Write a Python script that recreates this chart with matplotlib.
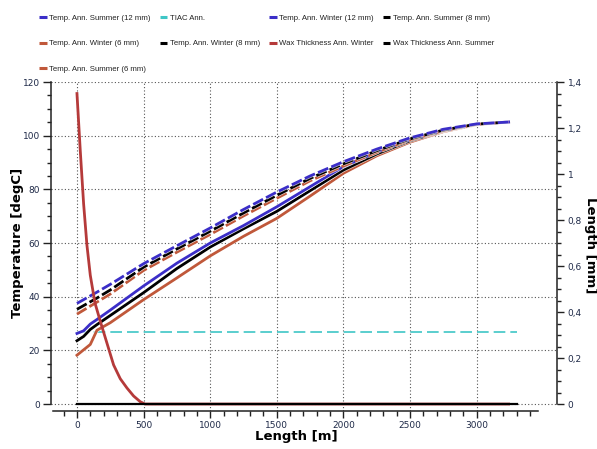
import matplotlib
matplotlib.use('Agg')
import matplotlib.pyplot as plt
import matplotlib.patheffects as pe
from matplotlib.lines import Line2D
from matplotlib.ticker import FixedLocator, FuncFormatter

# Pipeline temperature / wax thickness profiles along the line
length_m = [0, 50, 100, 150, 250, 500, 750, 1000, 1250, 1500, 1750,
            2000, 2250, 2500, 2750, 3000, 3240]

temp_summer_12 = [37.5, 38.9, 40.3, 41.7, 44.6, 52.3, 59.0, 65.6, 72.5, 79.0, 85.0,
                  90.3, 95.0, 99.2, 102.4, 104.4, 105.1]
temp_summer_8 = [35.3, 36.7, 38.1, 39.5, 42.5, 51.0, 57.8, 64.4, 71.2, 77.8, 84.1,
                 89.5, 94.4, 98.8, 102.1, 104.3, 105.1]
temp_summer_6 = [33.5, 35.0, 36.5, 38.0, 41.0, 49.8, 56.6, 63.2, 70.1, 76.7, 83.2,
                 88.7, 93.8, 98.4, 101.9, 104.2, 105.1]
temp_winter_12 = [26.3, 27.3, 29.8, 31.5, 35.0, 44.0, 52.5, 60.0, 66.5, 73.5, 81.0,
                  88.5, 94.0, 98.6, 102.0, 104.3, 105.1]
temp_winter_8 = [23.6, 25.2, 27.8, 29.6, 33.0, 41.5, 50.5, 58.5, 65.3, 71.8, 79.5,
                 87.2, 93.2, 98.1, 101.8, 104.2, 105.1]
temp_winter_6 = [18.2, 20.2, 22.2, 27.5, 30.3, 38.9, 47.0, 55.2, 62.5, 69.2, 77.5,
                 86.0, 92.5, 97.6, 101.5, 104.1, 105.1]

tiac_length = [0, 3300]
tiac_temp = [27.0, 27.0]

wax_winter_length = [0, 25, 50, 75, 100, 135, 175, 225, 275, 325, 375, 425, 475, 510, 3240]
wax_winter_mm = [1.35, 1.10, 0.87, 0.69, 0.56, 0.44, 0.36, 0.265, 0.17, 0.11, 0.07,
                 0.035, 0.01, 0.0, 0.0]
wax_summer_length = [0, 3300]
wax_summer_mm = [0.0, 0.0]

BLUE = '#3b2ec8'
BLACK = '#000000'
BROWN = '#c0583a'
RED = '#b53a3a'
TEAL = '#3ec6c6'
TICK_COLOR = '#1f2a48'

fig = plt.figure(figsize=(5.97, 4.49), dpi=100)
ax = fig.add_axes([0.0854, 0.0846, 0.8471, 0.7327])
ax2 = ax.twinx()

halo = [pe.Stroke(linewidth=3.0, foreground='white', alpha=0.7), pe.Normal()]
dash = (0, (4, 1.2))

ax.plot(tiac_length, tiac_temp, color=TEAL, lw=1.2, linestyle=(0, (7, 3)))
ax.plot(length_m, temp_winter_6, color=BROWN, lw=2.0, path_effects=halo)
ax.plot(length_m, temp_winter_8, color=BLACK, lw=2.0, path_effects=halo)
ax.plot(length_m, temp_winter_12, color=BLUE, lw=2.0, path_effects=halo)
ax.plot(length_m, temp_summer_6, color=BROWN, lw=2.0, linestyle=dash, path_effects=halo)
ax.plot(length_m, temp_summer_8, color=BLACK, lw=2.0, linestyle=dash, path_effects=halo)
ax.plot(length_m, temp_summer_12, color=BLUE, lw=2.0, linestyle=dash, path_effects=halo)

ax2.plot(wax_winter_length, wax_winter_mm, color=RED, lw=2.0)
ax2.plot(wax_summer_length, wax_summer_mm, color=BLACK, lw=1.6)

# both y axes cover the same span (0-120 degC <-> 0-1.4 mm)
ax.set_xlim(-195, 3601)
ax.set_ylim(-2.6, 120)
ax2.set_ylim(-2.6 * 1.4 / 120, 1.4)

for side in ['top', 'right']:
    ax.spines[side].set_visible(False)
for side in ['top', 'left', 'bottom']:
    ax2.spines[side].set_visible(False)
ax.spines['left'].set_bounds(0, 120)
ax.spines['bottom'].set_bounds(-180, 3460)
ax2.spines['right'].set_bounds(0, 1.4)
for sp in [ax.spines['left'], ax.spines['bottom'], ax2.spines['right']]:
    sp.set_color('#222222')
    sp.set_linewidth(1.1)

ax.xaxis.set_major_locator(FixedLocator(list(range(0, 3001, 500))))
ax.xaxis.set_minor_locator(FixedLocator(list(range(-100, 3401, 100))))
ax.yaxis.set_major_locator(FixedLocator(list(range(0, 121, 20))))
ax.yaxis.set_minor_locator(FixedLocator(list(range(0, 121, 5))))
ax2.yaxis.set_major_locator(FixedLocator([i * 0.2 for i in range(8)]))
ax2.yaxis.set_minor_locator(FixedLocator([i * 0.05 for i in range(29)]))
ax2.yaxis.set_major_formatter(FuncFormatter(lambda v, p: ('%g' % round(v, 2)).replace('.', ',')))

ax.tick_params(axis='y', which='major', length=5.8, width=1, pad=2.2,
               labelsize=6.5, labelcolor=TICK_COLOR, color='#222222')
ax.tick_params(axis='y', which='minor', length=2.9, width=1, color='#222222')
ax.tick_params(axis='x', which='major', length=4.8, width=1, pad=2.4,
               labelsize=6.5, labelcolor=TICK_COLOR, color='#222222')
ax.tick_params(axis='x', which='minor', length=3.4, width=1, color='#222222')
ax2.tick_params(axis='y', which='major', length=4.8, width=1, pad=3,
                labelsize=6.5, labelcolor=TICK_COLOR, color='#222222')
ax2.tick_params(axis='y', which='minor', length=3.0, width=1, color='#222222')

ax.grid(True, which='major', linestyle=(0, (1, 2)), color='#555555', lw=0.8)
ax.set_axisbelow(True)

ax.set_xlabel('Length [m]', fontsize=9.5, fontweight='bold')
ax.xaxis.set_label_coords(0.4845, -0.058)
ax.set_ylabel('Temperature [degC]', fontsize=9.5, fontweight='bold')
ax.yaxis.set_label_coords(-0.0534, 0.51)
ax2.set_ylabel('Length [mm]', fontsize=9.5, fontweight='bold', rotation=270, va='bottom')
ax2.yaxis.set_label_coords(1.053, 0.505)

# legend, filled column by column (4 columns, 3 rows)
entries = [
    ('Temp. Ann. Summer (12 mm)', BLUE),
    ('Temp. Ann. Winter (6 mm)', BROWN),
    ('Temp. Ann. Summer (6 mm)', BROWN),
    ('TIAC Ann.', TEAL),
    ('Temp. Ann. Winter (8 mm)', BLACK),
    ('Temp. Ann. Winter (12 mm)', BLUE),
    ('Wax Thickness Ann. Winter', RED),
    ('Temp. Ann. Summer (8 mm)', BLACK),
    ('Wax Thickness Ann. Summer', BLACK),
]
handles = [Line2D([], [], color=c, lw=2.2, solid_capstyle='butt') for _, c in entries]
labels = [t for t, _ in entries]
fig.legend(handles, labels, ncol=4, loc='upper left',
           bbox_to_anchor=(39.3 / 597, 1 - 14.5 / 449), frameon=False,
           prop={'family': 'Liberation Sans', 'size': 5.6},
           labelcolor='#222222', handlelength=0.95, handletextpad=0.3,
           columnspacing=1.2, labelspacing=2.32, borderpad=0, borderaxespad=0)

fig.savefig('out.png', dpi=100)
